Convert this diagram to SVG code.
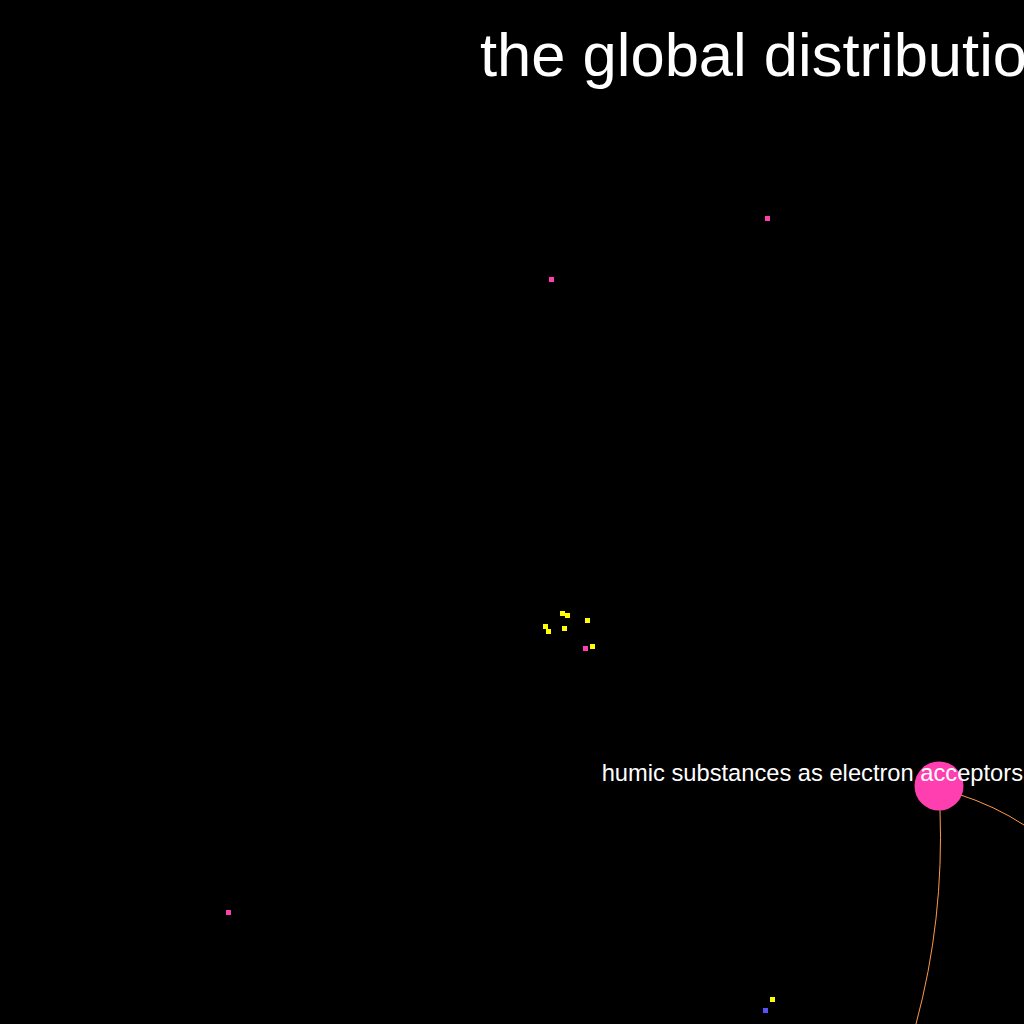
<svg xmlns="http://www.w3.org/2000/svg" width="1024" height="1024" viewBox="0 0 1024 1024">
<style>
.dot{stroke:none}
.y{fill:#ffff00}
.p{fill:#ff3eb0}
.b{fill:#5a50ff}
.edge{fill:none;stroke:#ff9a4a;stroke-width:1}
.lbl{font-family:"Liberation Sans",Arial,sans-serif;fill:#ffffff}
</style>
<rect width="1024" height="1024" fill="#000000"/>
<text class="lbl" x="480" y="76" font-size="61.5">the global distributio</text>
<g id="connectors">
<path class="edge" d="M958,794 Q995,806 1024,825"/>
<path class="edge" d="M940,810 Q944,920 916,1024"/>
</g>
<g id="n1"><circle class="dot p" cx="939" cy="786" r="24.5"/></g>
<g id="n2"><rect class="dot y" x="560" y="611" width="5" height="5"/></g>
<g id="n3"><rect class="dot y" x="565" y="613" width="5" height="5"/></g>
<g id="n4"><rect class="dot y" x="585" y="618" width="5" height="5"/></g>
<g id="n5"><rect class="dot y" x="543" y="624" width="5" height="5"/></g>
<g id="n6"><rect class="dot y" x="546" y="629" width="5" height="5"/></g>
<g id="n7"><rect class="dot y" x="562" y="626" width="5" height="5"/></g>
<g id="n8"><rect class="dot y" x="590" y="644" width="5" height="5"/></g>
<g id="n9"><rect class="dot p" x="583" y="646" width="5" height="5"/></g>
<g id="n10"><rect class="dot p" x="765" y="216" width="5" height="5"/></g>
<g id="n11"><rect class="dot p" x="549" y="277" width="5" height="5"/></g>
<g id="n12"><rect class="dot p" x="226" y="910" width="5" height="5"/></g>
<g id="n13"><rect class="dot y" x="770" y="997" width="5" height="5"/></g>
<g id="n14"><rect class="dot b" x="763" y="1008" width="5" height="5"/></g>
<text class="lbl" x="1023" y="781" font-size="23.7" text-anchor="end">humic substances as electron acceptors</text>
</svg>
